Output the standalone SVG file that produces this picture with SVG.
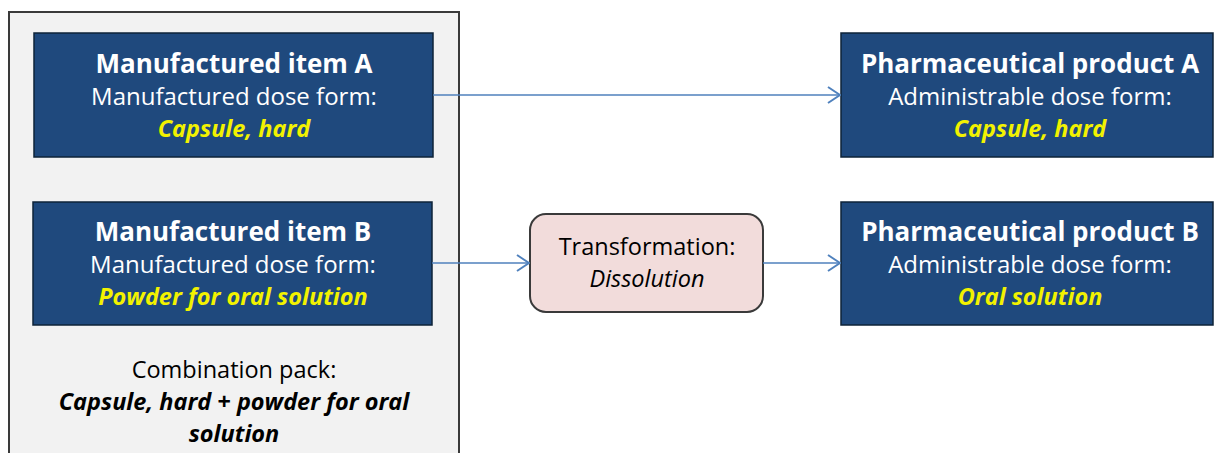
<svg xmlns="http://www.w3.org/2000/svg" width="1215" height="453" viewBox="0 0 1215 453">
<defs>
<style>
.t{font-family:"Open Sans","Liberation Sans",sans-serif;text-anchor:middle}
.box{fill:#1F497D;stroke:#0E2338;stroke-width:1.5}
.ti{fill:#fff;font-weight:bold;font-size:26px}
.sub{fill:#fff;font-size:24px}
.yl{fill:#F2F200;font-weight:bold;font-style:italic;font-size:23.5px}
.bk{fill:#000;font-size:23.5px}
.conn{stroke:#4F81BD;stroke-width:1.5;fill:none}
</style>
<marker id="ah" markerWidth="14" markerHeight="18" refX="13" refY="9" orient="auto" markerUnits="userSpaceOnUse">
<path d="M1,1 L13,9 L1,17" fill="none" stroke="#4F81BD" stroke-width="2"/>
</marker>
</defs>
<rect width="1215" height="453" fill="#fff"/>
<g id="combination-pack">
<rect x="9" y="12" width="450" height="460" fill="#F2F2F2" stroke="#3A3A3A" stroke-width="2"/>
<text class="t bk" x="234" y="378">Combination pack:</text>
<text class="t bk" x="234" y="410" font-weight="bold" font-style="italic">Capsule, hard + powder for oral</text>
<text class="t bk" x="234" y="442" font-weight="bold" font-style="italic">solution</text>
</g>
<g id="item-a">
<rect class="box" x="34" y="33" width="399" height="124"/>
<text class="t ti" x="234" y="73">Manufactured item A</text>
<text class="t sub" x="234" y="105">Manufactured dose form:</text>
<text class="t yl" x="234" y="137">Capsule, hard</text>
</g>
<g id="item-b">
<rect class="box" x="33" y="202" width="399" height="123"/>
<text class="t ti" x="233" y="241">Manufactured item B</text>
<text class="t sub" x="233" y="273">Manufactured dose form:</text>
<text class="t yl" x="233" y="305">Powder for oral solution</text>
</g>
<g id="transformation">
<rect x="530" y="214" width="233" height="98" rx="16" fill="#F2DCDB" stroke="#3A3A3A" stroke-width="2"/>
<text class="t bk" x="647" y="255">Transformation:</text>
<text class="t bk" x="647" y="287" font-style="italic">Dissolution</text>
</g>
<g id="product-a">
<rect class="box" x="841" y="33" width="372" height="124"/>
<text class="t ti" x="1030" y="73">Pharmaceutical product A</text>
<text class="t sub" x="1030" y="105">Administrable dose form:</text>
<text class="t yl" x="1030" y="137">Capsule, hard</text>
</g>
<g id="product-b">
<rect class="box" x="841" y="202" width="372" height="123"/>
<text class="t ti" x="1030" y="241">Pharmaceutical product B</text>
<text class="t sub" x="1030" y="273">Administrable dose form:</text>
<text class="t yl" x="1030" y="305">Oral solution</text>
</g>
<g id="connectors">
<line class="conn" x1="433" y1="95" x2="840" y2="95" marker-end="url(#ah)"/>
<line class="conn" x1="432" y1="263" x2="529" y2="263" marker-end="url(#ah)"/>
<line class="conn" x1="763" y1="263" x2="840" y2="263" marker-end="url(#ah)"/>
</g>
</svg>
